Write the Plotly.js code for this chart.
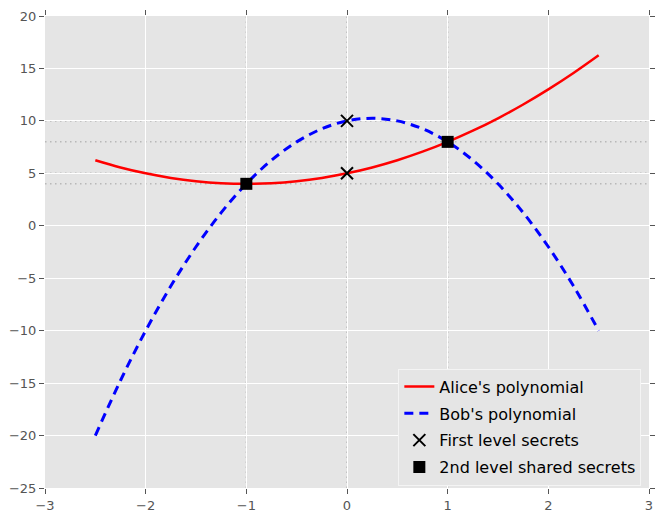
<!DOCTYPE html>
<html>
<head>
<meta charset="utf-8">
<script src="https://cdn.plot.ly/plotly-3.0.1.min.js"></script>
<style>html,body{margin:0;padding:0;background:#fff;}#chart{width:655px;height:514px;}</style>
</head>
<body>
<div id="chart"></div>
<script>
var xs = [-2.5,-2.25,-2,-1.75,-1.5,-1.25,-1,-0.75,-0.5,-0.25,0,0.25,0.5,0.75,1,1.25,1.5,1.75,2,2.25,2.5];
var alice = [6.25,5.5625,5,4.5625,4.25,4.0625,4,4.0625,4.25,4.5625,5,5.5625,6.25,7.0625,8,9.0625,10.25,11.5625,13,14.5625,16.25];
var bob = [-20,-14.75,-10,-5.75,-2,1.25,4,6.25,8,9.25,10,10.25,10,9.25,8,6.25,4,1.25,-2,-5.75,-10];
var firstX = [0,0];
var firstY = [10,5];
var sharedX = [-1,1];
var sharedY = [4,8];
var hLines = [4,5,8,10];
var vLines = [-1,0,1];

var font = 'DejaVu Sans, sans-serif';
var traces = [
  {x: xs, y: alice, mode: 'lines', name: "Alice's polynomial", legendgroup: 'a', line: {color: '#ff0000', width: 2.5, shape: 'spline'}},
  {x: xs, y: bob, mode: 'lines', name: "Bob's polynomial", legendgroup: 'b', line: {color: '#0000ff', width: 3, dash: '9px,6px', shape: 'spline'}},
  {x: firstX, y: firstY, mode: 'markers', name: 'First level secrets', legendgroup: 'c', marker: {symbol: 'x-thin-open', size: 12, color: '#000', line: {color: '#000', width: 2}}},
  {x: sharedX, y: sharedY, mode: 'markers', name: '2nd level shared secrets', legendgroup: 'd', marker: {symbol: 'square', size: 12, color: '#000'}}
];

var shapes = [];
hLines.forEach(function(v){
  shapes.push({type: 'line', xref: 'paper', x0: 0, x1: 1, yref: 'y', y0: v, y1: v, layer: 'below', line: {color: '#b8b8b8', width: 1.5, dash: '1.5px,3.5px'}});
});
vLines.forEach(function(v){
  shapes.push({type: 'line', yref: 'paper', y0: 0, y1: 1, xref: 'x', x0: v, x1: v, layer: 'below', line: {color: '#b8b8b8', width: 1.5, dash: '1.5px,3.5px'}});
});

var axisCommon = {
  showgrid: true, gridcolor: '#ffffff', gridwidth: 1, zeroline: false, showline: false,
  ticks: 'outside', ticklen: 5, tickcolor: '#555555', tickwidth: 1, mirror: 'ticks',
  ticklabeloverflow: 'allow',
  tickfont: {family: font, size: 13, color: '#555555'}
};

var layout = {
  width: 655, height: 514,
  margin: {l: 45, r: 6, t: 16, b: 26},
  paper_bgcolor: '#ffffff', plot_bgcolor: '#e5e5e5',
  font: {family: font},
  xaxis: Object.assign({}, axisCommon, {range: [-3, 3], dtick: 1, tick0: 0}),
  yaxis: Object.assign({}, axisCommon, {range: [-25, 20], dtick: 5, tick0: 0}),
  shapes: shapes,
  showlegend: true,
  legend: {x: 0.585, y: 0.005, xanchor: 'left', yanchor: 'bottom', bgcolor: '#e5e5e5', bordercolor: '#f4f4f4', borderwidth: 1, font: {family: font, size: 16, color: '#000'}, tracegroupgap: 3, traceorder: 'grouped'}
};

Plotly.newPlot('chart', traces, layout, {displayModeBar: false, staticPlot: true});
</script>
</body>
</html>
